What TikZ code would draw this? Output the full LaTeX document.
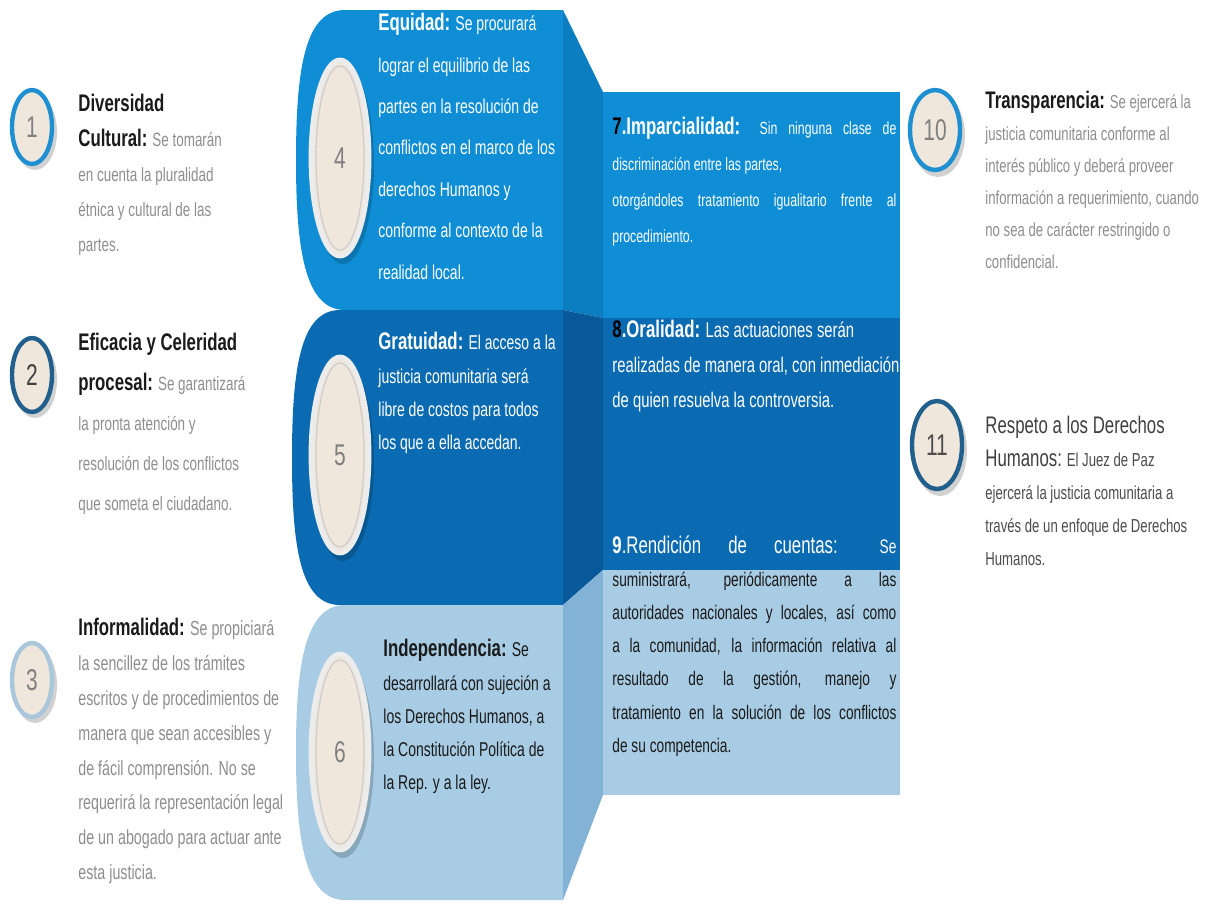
\documentclass[tikz,border=0pt]{standalone}
\usepackage{fontspec}
\setmainfont{Liberation Sans}[FakeStretch=0.7]
\definecolor{cA}{HTML}{0F8ED6}
\definecolor{cAs}{HTML}{0B7EC2}
\definecolor{cB}{HTML}{0A6BB2}
\definecolor{cBs}{HTML}{08599A}
\definecolor{cC}{HTML}{A8CCE4}
\definecolor{cCs}{HTML}{82B3D6}
\definecolor{beige}{HTML}{EFE7DC}
\definecolor{txtgray}{HTML}{8E8E8E}
\definecolor{ttlc}{HTML}{1A1A1A}
\definecolor{ringA}{HTML}{1E8FD0}
\definecolor{ringB}{HTML}{215F8C}
\definecolor{ringC}{HTML}{A9C6DA}
\newcommand\tl[1]{{\fontsize{12}{16}\selectfont\bfseries #1}}
\tikzset{
  sidetext/.style={anchor=north west, align=left, inner sep=0pt, text=txtgray, font=\fontsize{9.6}{17.5}\selectfont},
  blocktext/.style={anchor=north west, align=left, inner sep=0pt, text=white, font=\fontsize{10}{16.6}\selectfont},
  ring/.style={fill=beige, draw=#1, line width=2.2pt},
  shadowell/.style={fill=black, opacity=0.18},
  innerring/.style={fill=beige, draw=white!85!gray, line width=2.4pt},
  numtext/.style={text=gray, font=\fontsize{15}{15}\selectfont},
}
\begin{document}
\begin{tikzpicture}[x=0.5pt,y=-0.5pt]
\useasboundingbox (0,0) rectangle (1208,905);
\fill[white] (0,0) rectangle (1208,905);

% central blocks
\fill[cA] (563,10) -- (345,10) .. controls (305,10) and (296,68) .. (296,160) .. controls (296,250) and (305,310) .. (345,310) -- (563,310) -- cycle;
\fill[cB] (563,310) -- (340,310) .. controls (300,310) and (292,370) .. (292,458) .. controls (292,546) and (300,605) .. (340,605) -- (563,605) -- cycle;
\fill[cC] (563,605) -- (345,605) .. controls (305,605) and (296,665) .. (296,752) .. controls (296,840) and (305,900) .. (345,900) -- (563,900) -- cycle;
\fill[cAs] (563,10) -- (603,92) -- (603,318) -- (563,310) -- cycle;
\fill[cBs] (563,310) -- (603,318) -- (603,570) -- (563,605) -- cycle;
\fill[cCs] (563,605) -- (603,570) -- (603,795) -- (563,900) -- cycle;
\fill[cA] (603,92) rectangle (900,318);
\fill[cB] (603,318) rectangle (900,570);
\fill[cC] (603,570) rectangle (900,795);

% left circles
\foreach \y/\c in {127/ringA,375/ringB,680/ringC}{
  \fill[shadowell] (35,\y+5) ellipse [x radius=22, y radius=38];
  \draw[ring=\c] (32,\y) ellipse [x radius=20, y radius=37];
}
\node[numtext] (n1) at (32,127) {1};
\node[numtext, text=black!75] (n2) at (32,375) {2};
\node[numtext] (n3) at (32,680) {3};

% right circles
\fill[shadowell] (938,135) ellipse [x radius=27, y radius=42];
\draw[ring=ringA] (935,130) ellipse [x radius=25, y radius=40];
\node[numtext] (n10) at (935,130) {10};
\fill[shadowell] (940,450) ellipse [x radius=27, y radius=46];
\draw[ring=ringB] (937,445) ellipse [x radius=25, y radius=44];
\node[numtext, text=black!70] (n11) at (937,445) {11};

% center circles
\foreach \y in {158,455,752}{
  \fill[shadowell] (343,\y+6) ellipse [x radius=31, y radius=100];
  \draw[innerring] (340,\y) ellipse [x radius=29, y radius=98];
  \draw[gray!40, line width=0.6pt] (340,\y) ellipse [x radius=24, y radius=92];
}
\node[numtext] (n4) at (340,158) {4};
\node[numtext] (n5) at (340,455) {5};
\node[numtext] (n6) at (340,752) {6};

% left texts
\node[sidetext] (t1) at (78,94) {\textcolor{ttlc}{\tl{Diversidad}}\\\textcolor{ttlc}{\tl{Cultural:}} Se tomarán\\en cuenta la pluralidad\\étnica y cultural de las\\partes.};
\node[sidetext, font=\fontsize{9.6}{20}\selectfont] (t2) at (78,333) {\textcolor{ttlc}{\tl{Eficacia y Celeridad}}\\\textcolor{ttlc}{\tl{procesal:}} Se garantizará\\la pronta atención y\\resolución de los conflictos\\que someta el ciudadano.};
\node[sidetext, font=\fontsize{10.2}{17.4}\selectfont] (t3) at (78,618) {\textcolor{ttlc}{\tl{Informalidad:}} Se propiciará\\la sencillez de los trámites\\escritos y de procedimientos de\\manera que sean accesibles y\\de fácil comprensión. No se\\requerirá la representación legal\\de un abogado para actuar ante\\esta justicia.};

% block texts
\node[blocktext, font=\fontsize{10}{20.7}\selectfont] (t4) at (378,13) {\tl{Equidad:} Se procurará\\lograr el equilibrio de las\\partes en la resolución de\\conflictos en el marco de los\\derechos Humanos y\\conforme al contexto de la\\realidad local.};
\node[blocktext] (t5) at (378,332) {\tl{Gratuidad:} El acceso a la\\justicia comunitaria será\\libre de costos para todos\\los que a ella accedan.};
\node[blocktext, text=ttlc] (t6) at (383,639) {\tl{Independencia:} Se\\desarrollará con sujeción a\\los Derechos Humanos, a\\la Constitución Política de\\la Rep. y a la ley.};

% right box texts
\node[blocktext, text width=142pt, align=justify, font=\fontsize{8.8}{18}\selectfont] (t7) at (612,117) {\textcolor{black}{\tl{7}}\tl{.Imparcialidad:} Sin ninguna clase de\linebreak discriminación entre las partes,\\otorgándoles tratamiento igualitario frente al\linebreak procedimiento.};
\node[blocktext, font=\fontsize{10.6}{17.5}\selectfont] (t8) at (612,320) {\textcolor{black}{\tl{8}}\tl{.Oralidad:} Las actuaciones serán\\realizadas de manera oral, con inmediación\\de quien resuelva la controversia.};
\node[blocktext, text width=142pt, align=justify, font=\fontsize{9.8}{16.6}\selectfont, text=ttlc] (t9) at (612,535) {\textcolor{white}{\tl{9}{\fontsize{12}{16}\selectfont.Rendición de cuentas:} Se}\linebreak suministrará, periódicamente a las\linebreak autoridades nacionales y locales, así como\linebreak a la comunidad, la información relativa al\linebreak resultado de la gestión, manejo y\linebreak tratamiento en la solución de los conflictos\linebreak de su competencia.};

\node[sidetext, font=\fontsize{9.4}{16}\selectfont] (t10) at (985,91) {\textcolor{ttlc}{\tl{Transparencia:}} Se ejercerá la\\justicia comunitaria conforme al\\interés público y deberá proveer\\información a requerimiento, cuando\\no sea de carácter restringido o\\confidencial.};
\node[sidetext, font=\fontsize{9.4}{16.5}\selectfont, text=black!70] (t11) at (985,416) {{\fontsize{12}{16}\selectfont\color{black!75}Respeto a los Derechos}\\{\fontsize{12}{16}\selectfont\color{black!75}Humanos:} El Juez de Paz\\ejercerá la justicia comunitaria a\\través de un enfoque de Derechos\\Humanos.};
\end{tikzpicture}
\end{document}
